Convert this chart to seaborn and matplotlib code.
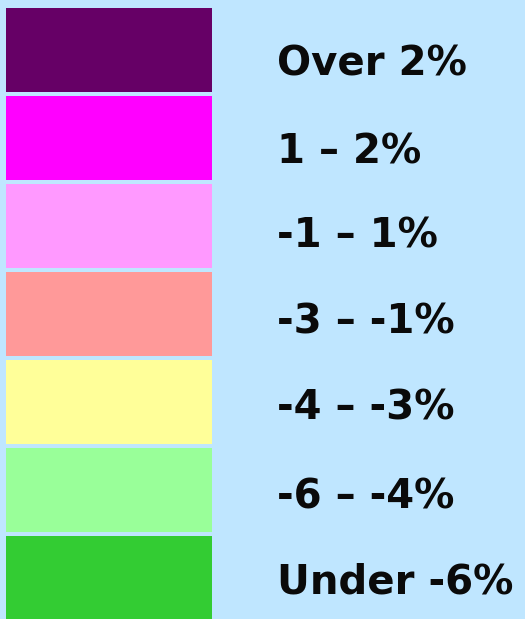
import seaborn as sns
import matplotlib.pyplot as plt

# legend classes, top to bottom
labels = ["Over 2%", "1 \u2013 2%", "-1 \u2013 1%", "-3 \u2013 -1%",
          "-4 \u2013 -3%", "-6 \u2013 -4%", "Under -6%"]
colors = ["#660066", "#FF00FF", "#FF99FF", "#FF9999",
          "#FFFF99", "#99FF99", "#33CC33"]
box_len = [1, 1, 1, 1, 1, 1, 1]

BG = "#BFE6FF"


def main():
    sns.set_style("white")
    plt.rcParams["font.family"] = ["DejaVu Sans"]

    fig = plt.figure(figsize=(5.25, 6.19), dpi=100, facecolor=BG)
    ax = fig.add_axes([0, 0, 1, 1])
    ax.set_facecolor(BG)

    sns.barplot(x=box_len, y=labels, hue=labels, palette=colors,
                order=labels, hue_order=labels, legend=False,
                width=84 / 88, saturation=1, orient="h",
                linewidth=0, edgecolor="none", ax=ax)

    # 1 px = 1/206 box units horizontally; box starts at x=6 px
    ax.set_xlim(-6 / 206, 519 / 206)
    # category i sits at y = 50 + 88*i px
    ax.set_ylim((619 - 50) / 88, -50 / 88)

    text_px = [61, 149, 234, 320, 406, 495, 579]
    for lab, yc in zip(labels, text_px):
        ax.text(271 / 206, (yc + 14 - 50) / 88, lab,
                fontsize=29, fontweight="bold", color="#0A0A0A",
                ha="left", va="baseline")

    ax.set_axis_off()
    fig.savefig("out.png", dpi=100, facecolor=BG)


if __name__ == "__main__":
    main()
